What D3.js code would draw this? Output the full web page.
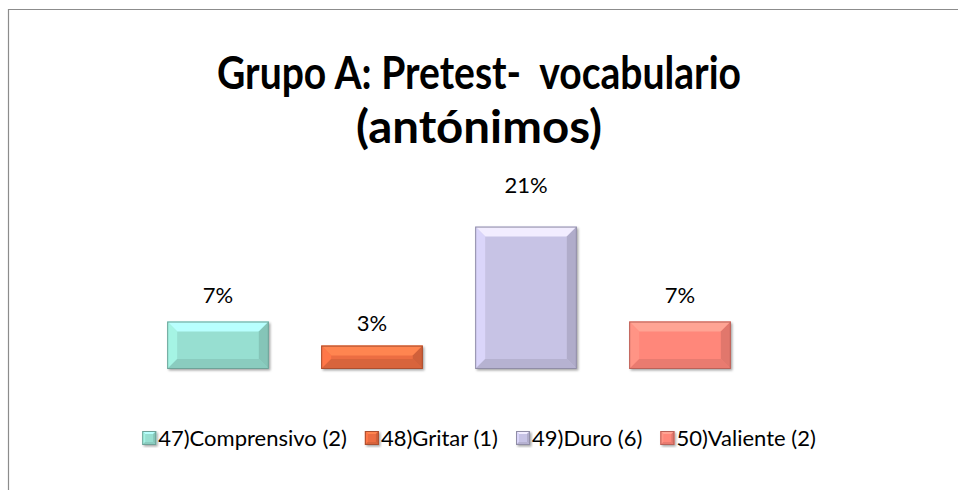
<!DOCTYPE html>
<meta charset="utf-8">
<style>
body { margin: 0; background: #fff; }
svg { display: block; font-family: Lato, "Open Sans", sans-serif; }
text { white-space: pre; }
</style>
<body>
<script src="https://cdn.jsdelivr.net/npm/d3@7"></script>
<script>
const categories = ["47)Comprensivo (2)", "48)Gritar (1)", "49)Duro (6)", "50)Valiente (2)"];
const values = [0.069, 0.034, 0.207, 0.069];
const colors = ["#97dfd1", "#ec6d42", "#c7c3e5", "#ff877a"];
const titleLines = ["Grupo A: Pretest-  vocabulario", "(antónimos)"];

const W = 958, H = 490;
const svg = d3.select("body").append("svg").attr("width", W).attr("height", H);

// chart frame (only top + left edges visible in the picture)
svg.append("path")
  .attr("d", "M8.5,490V9.5H958")
  .attr("fill", "none").attr("stroke", "#8c8c8c").attr("stroke-width", 1.2);

// title
svg.append("text")
  .attr("x", 479).attr("text-anchor", "middle")
  .attr("font-weight", "bold").attr("font-size", 46).attr("fill", "#000")
  .selectAll("tspan").data(titleLines).join("tspan")
  .attr("x", 479).attr("y", (d, i) => 89 + i * 54)
  .attr("textLength", (d, i) => i == 0 ? 524 : 246)
  .attr("lengthAdjust", "spacingAndGlyphs")
  .text(d => d);

const x = d3.scaleBand().domain(categories).range([141, 757]).paddingInner(0.34).paddingOuter(0.17);
const y = d3.scaleLinear().domain([0, 0.25]).range([369, 197]);
// label baselines sit a little higher on the tall bar, as in the original
const yl = d3.scaleLinear().domain([0.069, 0.207]).range([303, 193]);

const defs = svg.append("defs");
const sh = defs.append("filter").attr("id", "shadow").attr("x", "-10%").attr("y", "-10%").attr("width", "130%").attr("height", "130%");
sh.append("feDropShadow").attr("dx", 1.5).attr("dy", 1.5).attr("stdDeviation", 1.2).attr("flood-color", "#000").attr("flood-opacity", 0.35);

// bevelled box: face + four edge facets
function bevel(g, x0, y0, w, h, c, b) {
  const col = d3.color(c);
  const x1 = x0 + w, y1 = y0 + h;
  b = Math.min(b, h / 2, w / 2);
  g.append("rect").attr("x", x0).attr("y", y0).attr("width", w).attr("height", h)
    .attr("fill", c).attr("filter", "url(#shadow)");
  const facet = (pts, f) => g.append("polygon").attr("points", pts.map(p => p.join(",")).join(" ")).attr("fill", f);
  facet([[x0, y0], [x1, y0], [x1 - b, y0 + b], [x0 + b, y0 + b]], col.brighter(0.55));
  facet([[x0, y0], [x0 + b, y0 + b], [x0 + b, y1 - b], [x0, y1]], col.brighter(0.25));
  facet([[x1, y0], [x1, y1], [x1 - b, y1 - b], [x1 - b, y0 + b]], col.darker(0.35));
  facet([[x0, y1], [x0 + b, y1 - b], [x1 - b, y1 - b], [x1, y1]], col.darker(0.25));
  g.append("rect").attr("x", x0 + 0.5).attr("y", y0 + 0.5).attr("width", w - 1).attr("height", h - 1)
    .attr("fill", "none").attr("stroke", col.darker(0.9)).attr("stroke-width", 1);
}

const bars = svg.append("g");
categories.forEach((c, i) => {
  const g = bars.append("g");
  bevel(g, x(c), y(values[i]), x.bandwidth(), y(0) - y(values[i]), colors[i], 10);
});

svg.append("g").selectAll("text").data(categories).join("text")
  .attr("x", d => x(d) + x.bandwidth() / 2)
  .attr("y", (d, i) => yl(values[i]))
  .attr("text-anchor", "middle").attr("font-size", 22).attr("fill", "#000")
  .text((d, i) => d3.format(".0%")(values[i]));

// legend, centred
const leg = svg.append("g");
const items = leg.selectAll("g").data(categories).join("g");
items.each(function(d, i) {
  const g = d3.select(this);
  bevel(g, 0, -15, 14, 14, colors[i], 3);
  g.append("text").attr("x", 16).attr("y", 0).attr("font-size", 22).attr("fill", "#000").text(d);
});
let off = 0;
const gap = 18;
items.each(function() {
  const g = d3.select(this);
  g.attr("transform", `translate(${off},0)`);
  off += 16 + g.select("text").node().getComputedTextLength() + gap;
});
off -= gap;
leg.attr("transform", `translate(${(W - off) / 2},446)`);
</script>
</body>
